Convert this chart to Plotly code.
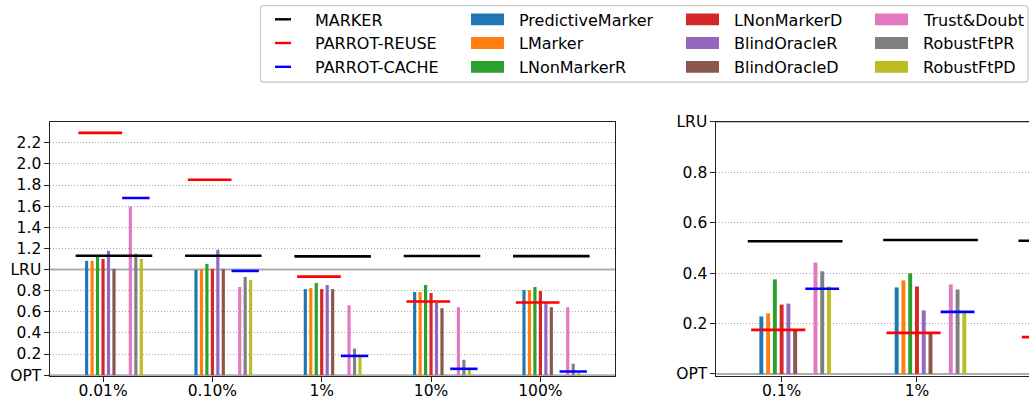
import plotly.graph_objects as go

# ---------------- data ----------------
left_categories = ["0.01%", "0.10%", "1%", "10%", "100%"]
right_categories = ["0.1%", "1%", "10%"]

bar_names = ["PredictiveMarker", "LMarker", "LNonMarkerR", "LNonMarkerD",
             "BlindOracleR", "BlindOracleD", "Trust&Doubt", "RobustFtPR", "RobustFtPD"]

left_predictive_marker = [1.082, 0.997, 0.815, 0.787, 0.806]
left_lmarker = [1.082, 1.006, 0.825, 0.787, 0.806]
left_lnonmarker_r = [1.13, 1.054, 0.873, 0.854, 0.834]
left_lnonmarker_d = [1.10, 1.006, 0.815, 0.777, 0.796]
left_blindoracle_r = [1.177, 1.187, 0.854, 0.685, 0.685]
left_blindoracle_d = [1.006, 1.006, 0.815, 0.634, 0.643]
left_trust_doubt = [1.598, 0.835, 0.662, 0.643, 0.643]
left_robust_ftp_r = [1.149, 0.930, 0.252, 0.146, 0.108]
left_robust_ftp_d = [1.10, 0.902, 0.18, 0.051, 0.02]
left_marker = [1.13, 1.13, 1.125, 1.128, 1.127]
left_parrot_reuse = [2.294, 1.851, 0.933, 0.697, 0.688]
left_parrot_cache = [1.677, 0.987, 0.182, 0.06, 0.035]

right_predictive_marker = [0.228, 0.343, None]
right_lmarker = [0.240, 0.371, None]
right_lnonmarker_r = [0.375, 0.399, None]
right_lnonmarker_d = [0.275, 0.347, None]
right_blindoracle_r = [0.279, 0.252, None]
right_blindoracle_d = [0.172, 0.159, None]
right_trust_doubt = [0.442, 0.355, None]
right_robust_ftp_r = [0.407, 0.335, None]
right_robust_ftp_d = [0.347, 0.248, None]
right_marker = [0.526, 0.531, 0.528]
right_parrot_reuse = [0.175, 0.163, 0.146]
right_parrot_cache = [0.338, 0.246, None]

left_yticks = [0, 0.2, 0.4, 0.6, 0.8, 1.0, 1.2, 1.4, 1.6, 1.8, 2.0, 2.2]
left_yticktext = ["OPT", "0.2", "0.4", "0.6", "0.8", "LRU", "1.2", "1.4", "1.6", "1.8", "2.0", "2.2"]
right_yticks = [0, 0.2, 0.4, 0.6, 0.8, 1.0]
right_yticktext = ["OPT", "0.2", "0.4", "0.6", "0.8", "LRU"]

# ---------------- style ----------------
bar_colors = ["#1f77b4", "#ff7f0e", "#2ca02c", "#d62728", "#9467bd",
              "#8c564b", "#e377c2", "#7f7f7f", "#bcbd22"]
bar_offsets = [-0.15, -0.10, -0.05, 0.0, 0.05, 0.10, 0.25, 0.30, 0.35]
BAR_W = 0.029
line_specs = {  # name: (color, start offset, end offset)
    "MARKER": ("black", -0.25, 0.45),
    "PARROT-REUSE": ("#ff0000", -0.225, 0.175),
    "PARROT-CACHE": ("#0000ff", 0.175, 0.425),
}
FONT = "DejaVu Sans"
W, H = 1029, 400

def px(x):
    return x / W

def py(y):
    return 1 - y / H

fig = go.Figure()

panels = [
    ("x", "y", left_categories,
     [left_predictive_marker, left_lmarker, left_lnonmarker_r, left_lnonmarker_d,
      left_blindoracle_r, left_blindoracle_d, left_trust_doubt, left_robust_ftp_r, left_robust_ftp_d],
     {"MARKER": left_marker, "PARROT-REUSE": left_parrot_reuse, "PARROT-CACHE": left_parrot_cache}),
    ("x2", "y2", right_categories,
     [right_predictive_marker, right_lmarker, right_lnonmarker_r, right_lnonmarker_d,
      right_blindoracle_r, right_blindoracle_d, right_trust_doubt, right_robust_ftp_r, right_robust_ftp_d],
     {"MARKER": right_marker, "PARROT-REUSE": right_parrot_reuse, "PARROT-CACHE": right_parrot_cache}),
]

for xa, ya, cats, series, lines in panels:
    for name, vals, color, off in zip(bar_names, series, bar_colors, bar_offsets):
        xs = [i + off for i in range(len(cats))]
        fig.add_trace(go.Bar(x=xs, y=vals, width=BAR_W, name=name,
                             marker=dict(color=color, line=dict(width=0)),
                             xaxis=xa, yaxis=ya, showlegend=False))
    for name, vals in lines.items():
        color, a, b = line_specs[name]
        xs, ys = [], []
        for i, v in enumerate(vals):
            if v is None:
                continue
            xs += [i + a, i + b, None]
            ys += [v, v, None]
        fig.add_trace(go.Scatter(x=xs, y=ys, mode="lines", name=name,
                                 line=dict(color=color, width=2.6),
                                 xaxis=xa, yaxis=ya, showlegend=False, cliponaxis=True))

# reference lines LRU / OPT
for xref, yref, yv in [("x domain", "y", 1.0), ("x domain", "y", 0.0),
                       ("x2 domain", "y2", 1.0), ("x2 domain", "y2", 0.0)]:
    fig.add_shape(type="line", xref=xref, yref=yref, x0=0, x1=1, y0=yv, y1=yv,
                  line=dict(color="#b0b0b0", width=2), layer="below")

axis_common = dict(showline=True, linecolor="#222222", linewidth=1.3,
                   ticks="outside", ticklen=4.5, tickwidth=1.1, tickcolor="#222222",
                   tickfont=dict(family=FONT, size=15.5, color="black"),
                   zeroline=False, automargin=False)

top, bottom = 121.7, 376.0
fig.update_layout(
    width=W, height=H, margin=dict(l=0, r=0, t=0, b=0),
    paper_bgcolor="white", plot_bgcolor="white",
    barmode="overlay", showlegend=False,
    xaxis=dict(domain=[px(50), px(615.3)], range=[-0.485, 4.685],
               tickvals=list(range(len(left_categories))), ticktext=left_categories,
               showgrid=False, mirror=True, anchor="y", ticklabelstandoff=-4, **axis_common),
    yaxis=dict(domain=[py(bottom), py(top)], range=[-0.008, 2.40],
               tickvals=left_yticks, ticktext=left_yticktext,
               showgrid=True, gridcolor="#a8a8a8", gridwidth=1, griddash="1px,2px",
               mirror=True, anchor="x", **axis_common),
    xaxis2=dict(domain=[px(716), 1.0], range=[-0.485, 1.828],
                tickvals=list(range(len(right_categories))), ticktext=right_categories,
                showgrid=False, mirror=True, anchor="y2", ticklabelstandoff=-4, **axis_common),
    yaxis2=dict(domain=[py(bottom), py(top)], range=[-0.008, 1.0],
                tickvals=right_yticks, ticktext=right_yticktext,
                showgrid=True, gridcolor="#a8a8a8", gridwidth=1, griddash="1px,2px",
                mirror=False, anchor="x2", **axis_common),
)

# ---------------- manual legend (matplotlib-like, column-major) ----------------
lx0, lx1, ly0, ly1 = 260.5, 1028.0, 5.7, 82.0
r = 3
path = (f"M {px(lx0 + r)},{py(ly0)} L {px(lx1 - r)},{py(ly0)} "
        f"Q {px(lx1)},{py(ly0)} {px(lx1)},{py(ly0 + r)} "
        f"L {px(lx1)},{py(ly1 - r)} Q {px(lx1)},{py(ly1)} {px(lx1 - r)},{py(ly1)} "
        f"L {px(lx0 + r)},{py(ly1)} Q {px(lx0)},{py(ly1)} {px(lx0)},{py(ly1 - r)} "
        f"L {px(lx0)},{py(ly0 + r)} Q {px(lx0)},{py(ly0)} {px(lx0 + r)},{py(ly0)} Z")
fig.add_shape(type="path", xref="paper", yref="paper", path=path,
              line=dict(color="#cccccc", width=1.3), fillcolor="white", layer="above")

row_y = [19.3, 43.0, 66.8]
legend_cols = [
    (["MARKER", "PARROT-REUSE", "PARROT-CACHE"], None, 313.3),
    (bar_names[0:3], 471.0, 517.3),
    (bar_names[3:6], 686.0, 732.3),
    (bar_names[6:9], 875.0, 921.0),
]
for ci, (names, patch_x, text_x) in enumerate(legend_cols):
    for ri, name in enumerate(names):
        yc = row_y[ri]
        if patch_x is None:
            color = line_specs[name][0]
            fig.add_shape(type="line", xref="paper", yref="paper",
                          x0=px(275), x1=px(291), y0=py(yc), y1=py(yc),
                          line=dict(color=color, width=2.4), layer="above")
        else:
            color = bar_colors[bar_names.index(name)]
            fig.add_shape(type="rect", xref="paper", yref="paper",
                          x0=px(patch_x), x1=px(patch_x + 33), y0=py(yc - 5.9), y1=py(yc + 5.9),
                          line=dict(width=0), fillcolor=color, layer="above")
        fig.add_annotation(x=px(text_x), y=py(yc + 1.0), xref="paper", yref="paper",
                           text=name, showarrow=False, xanchor="left", yanchor="middle",
                           font=dict(family=FONT, size=16, color="black"))

fig.write_html("out.html", include_plotlyjs=True, config={"displayModeBar": False},
               post_script="document.body.style.margin='0';document.body.style.overflow='hidden';")
